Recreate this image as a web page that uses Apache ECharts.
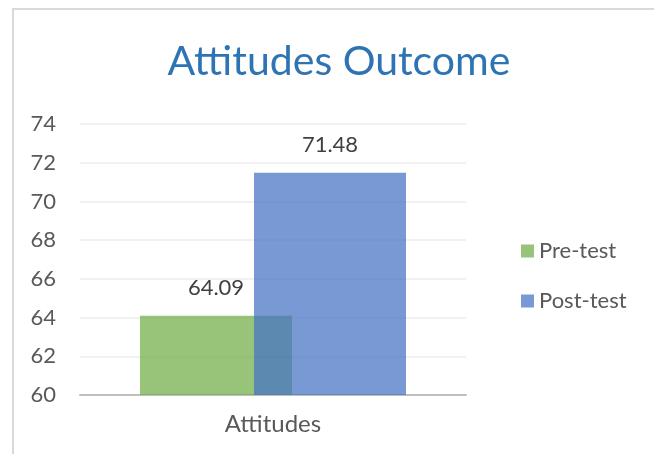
<!DOCTYPE html>
<html>
<head>
<meta charset="utf-8">
<script src="https://cdn.jsdelivr.net/npm/echarts@6/dist/echarts.min.js"></script>
<style>
  html, body { margin: 0; padding: 0; background: #fff; }
  #frame { position: absolute; left: 12px; top: 8px; width: 700px; height: 500px; border: 2px solid #d9d9d9; box-sizing: border-box; }
  #chart { position: absolute; left: 0; top: 0; width: 654px; height: 454px; }
</style>
</head>
<body>
<div id="frame"></div>
<div id="chart"></div>
<script>
// categories and values
const categories = ['Attitudes']
const preTest = [64.09]
const postTest = [71.48]

const chart = echarts.init(document.getElementById('chart'))

const labelStyle = {
  show: true,
  position: 'top',
  distance: 17,
  fontFamily: 'Lato',
  fontSize: 22,
  color: '#404040',
  formatter: p => p.value.toFixed(2),
}

chart.setOption({
  title: {
    text: 'Attitudes Outcome',
    left: 334,
    top: 36,
    textAlign: 'center',
    textStyle: {
      fontFamily: 'Lato',
      fontSize: 41,
      fontWeight: 'normal',
      color: '#2e74b5',
    },
  },
  legend: {
    orient: 'vertical',
    left: 516,
    top: 235,
    itemWidth: 13,
    itemHeight: 13,
    itemGap: 28,
    itemTextGap: 6,
    icon: 'rect',
    textStyle: {
      fontFamily: 'Lato',
      fontSize: 22,
      color: '#595959',
    },
    data: ['Pre-test', 'Post-test'],
  },
  grid: {
    left: 80,
    right: 188,
    top: 124,
    bottom: 59,
  },
  xAxis: {
    type: 'category',
    data: categories,
    axisTick: { show: false },
    axisLine: { lineStyle: { color: '#bfbfbf', width: 2 } },
    axisLabel: {
      fontFamily: 'Lato',
      fontSize: 24,
      color: '#595959',
      margin: 17,
    },
  },
  yAxis: {
    type: 'value',
    min: 60,
    max: 74,
    interval: 2,
    axisLine: { show: false },
    axisTick: { show: false },
    splitLine: { lineStyle: { color: '#ececec', width: 1.5 } },
    axisLabel: {
      fontFamily: 'Lato',
      fontSize: 22,
      color: '#595959',
      margin: 24,
    },
  },
  series: [
    {
      name: 'Pre-test',
      type: 'bar',
      data: preTest,
      barWidth: 152,
      barGap: '-25%',
      itemStyle: { color: 'rgba(112,173,71,0.72)' },
      label: labelStyle,
    },
    {
      name: 'Post-test',
      type: 'bar',
      data: postTest,
      barWidth: 152,
      itemStyle: { color: 'rgba(68,114,196,0.72)' },
      label: labelStyle,
    },
  ],
})
</script>
</body>
</html>
